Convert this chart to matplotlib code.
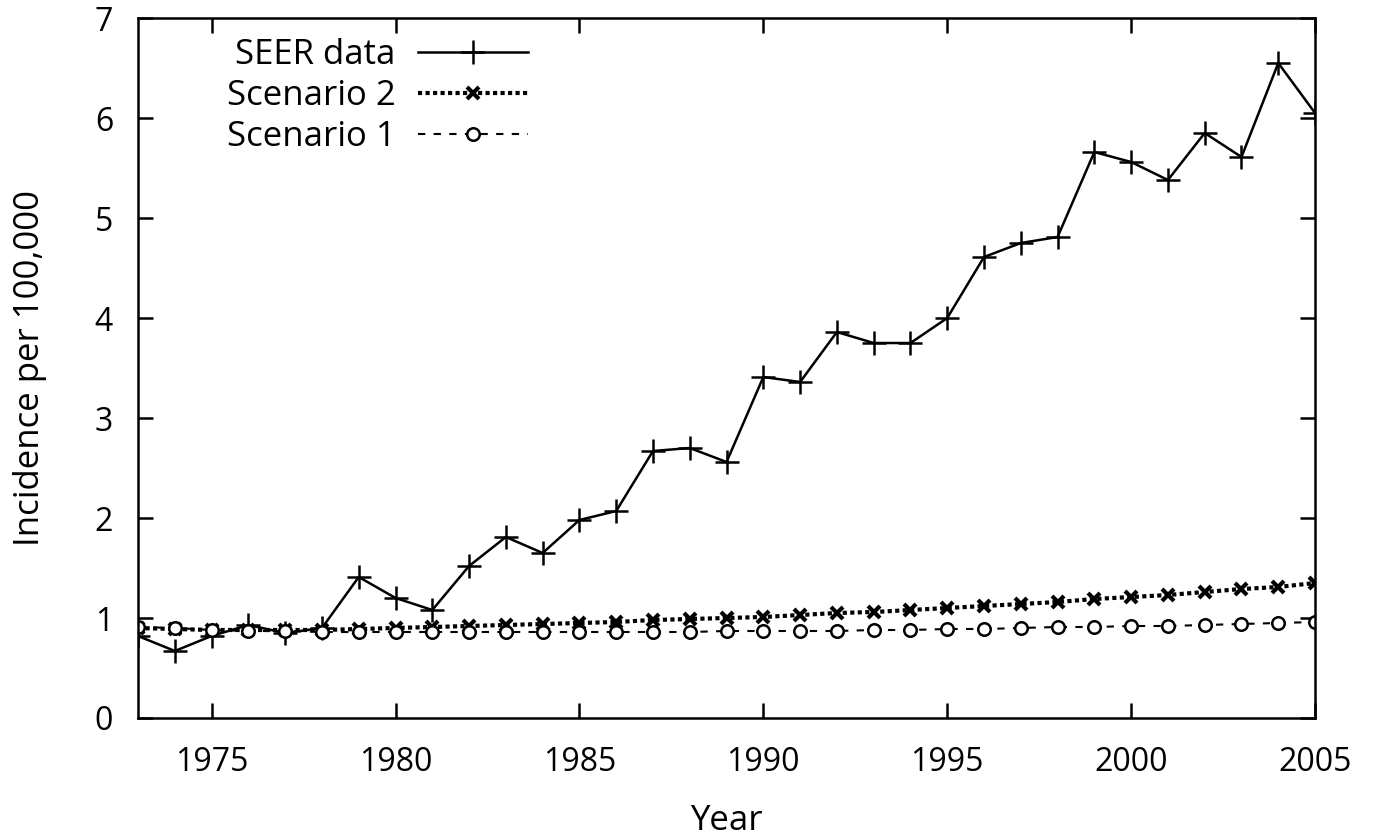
import matplotlib
matplotlib.use("Agg")
import matplotlib.pyplot as plt

years = list(range(1973, 2006))

seer = [0.82, 0.67, 0.82, 0.93, 0.85, 0.90, 1.41, 1.20, 1.08, 1.52, 1.81,
        1.65, 1.98, 2.07, 2.67, 2.70, 2.56, 3.41, 3.36, 3.86, 3.75, 3.75,
        4.00, 4.61, 4.75, 4.81, 5.66, 5.56, 5.38, 5.85, 5.61, 6.55, 6.05]

scenario2 = [0.90, 0.89, 0.88, 0.88, 0.88, 0.88, 0.89, 0.90, 0.91, 0.92, 0.93,
             0.94, 0.95, 0.96, 0.98, 0.99, 1.00, 1.01, 1.03, 1.05, 1.06, 1.08,
             1.10, 1.12, 1.14, 1.16, 1.19, 1.21, 1.23, 1.26, 1.29, 1.31, 1.35]

scenario1 = [0.91, 0.90, 0.88, 0.87, 0.87, 0.86, 0.86, 0.86, 0.86, 0.86, 0.86,
             0.86, 0.86, 0.86, 0.86, 0.86, 0.87, 0.87, 0.87, 0.87, 0.88, 0.88,
             0.89, 0.89, 0.90, 0.91, 0.91, 0.92, 0.92, 0.93, 0.94, 0.95, 0.96]

labels = ["SEER data", "Scenario 2", "Scenario 1"]

plt.rcParams['font.family'] = ['Open Sans', 'DejaVu Sans']
plt.rcParams['font.size'] = 23

fig = plt.figure(figsize=(13.75, 8.38), dpi=100)
ax = fig.add_axes([0.1004, 0.1432, 0.8560, 0.8353])

ax.plot(years, seer, color='black', lw=1.8, marker='+', ms=17, mew=1.8,
        label=labels[0])
ax.plot(years, scenario2, color='black', lw=3, ls=(0, (1, 0.8)), marker='x',
        ms=9, mew=3, label=labels[1])
ax.plot(years, scenario1, color='black', lw=1.5, ls=(0, (3.5, 4)), marker='o',
        ms=9, mfc='white', mew=1.8, label=labels[2])

ax.set_xlim(1973, 2005)
ax.set_ylim(0, 7)
ax.set_xticks(range(1975, 2006, 5))
ax.set_yticks(range(0, 8))
ax.tick_params(direction='in', length=11, width=1.8, top=True, right=True)
ax.tick_params(axis='x', pad=20)
ax.tick_params(axis='y', pad=18)
for s in ax.spines.values():
    s.set_linewidth(1.8)

ax.set_xlabel("Year", fontsize=25, labelpad=18)
ax.set_ylabel("Incidence per 100,000", fontsize=25, labelpad=34)

ax.legend(loc='upper right', bbox_to_anchor=(0.346, 0.996), frameon=False,
          markerfirst=False, handlelength=3.16, handletextpad=0.65,
          labelspacing=0.2, borderpad=0, fontsize=25)

fig.savefig("out.png", dpi=100)
